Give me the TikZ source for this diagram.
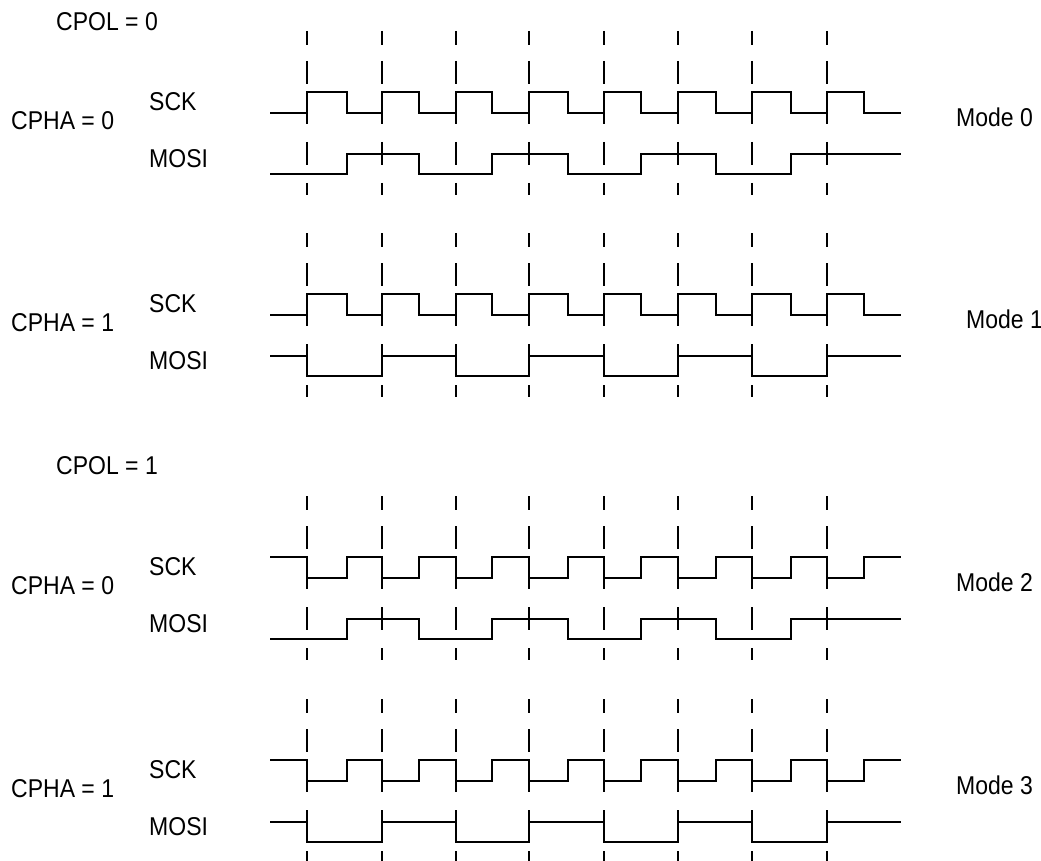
\documentclass[tikz,border=0pt]{standalone}
\usepackage{fontspec}
\setmainfont{Liberation Sans}
\usepackage{graphicx}
\newcommand\stlbl[1]{\scalebox{1}[1.12]{#1}}
\begin{document}
\begin{tikzpicture}[x=1pt,y=-1pt,
  sig/.style={line width=1.8pt, line join=miter},
  tick/.style={line width=1.6pt},
  lbl/.style={anchor=west, inner sep=0pt, font=\fontsize{23}{26}\selectfont}]
\useasboundingbox (0,0) rectangle (1041,861);
\fill[white] (0,0) rectangle (1041,861);
\node[lbl] (cpol0) at (56,22) {\stlbl{CPOL = 0}};
\node[lbl] (cpol1) at (56,466) {\stlbl{CPOL = 1}};
\foreach \D/\pol/\pha/\m/\mx in {61/0/0/0/956, 263/0/1/1/966, 526/1/0/2/956, 729/1/1/3/956}{
  \pgfmathsetmacro\SH{\D+31}
  \pgfmathsetmacro\SL{\D+52}
  \pgfmathsetmacro\MH{\D+93}
  \pgfmathsetmacro\ML{\D+113}
  \ifnum\pol=0
    \let\Si\SL \let\Sa\SH
  \else
    \let\Si\SH \let\Sa\SL
  \fi
  % SCK
  \draw[sig] (270,\Si)
    \foreach \e/\f in {307/347, 382/419, 456/492, 529/568, 604/641, 678/716, 752/791, 827/864}
      { -- (\e,\Si) -- (\e,\Sa) -- (\f,\Sa) -- (\f,\Si) } -- (901,\Si);
  % MOSI
  \ifnum\pha=0
    \draw[sig] (270,\ML)
      \foreach \a/\b in {347/419, 492/568, 641/716}
        { -- (\a,\ML) -- (\a,\MH) -- (\b,\MH) -- (\b,\ML) }
      -- (791,\ML) -- (791,\MH) -- (901,\MH);
  \else
    \draw[sig] (270,\MH)
      \foreach \a/\b in {307/382, 456/529, 604/678, 752/827}
        { -- (\a,\MH) -- (\a,\ML) -- (\b,\ML) -- (\b,\MH) }
      -- (901,\MH);
  \fi
  % dashed sampling lines
  \foreach \x in {307,382,456,529,604,678,752,827}{
    \foreach \a/\b in {-30/-16, 0/23, 40/63, 81/104, 122/134}{
      \pgfmathsetmacro\ya{\D+\a}
      \pgfmathsetmacro\yb{\D+\b}
      \draw[tick] (\x,\ya) -- (\x,\yb);
    }
  }
  % labels
  \pgfmathsetmacro\ySCK{\D+41}
  \pgfmathsetmacro\yMOSI{\D+98}
  \pgfmathsetmacro\yCPHA{\D+60}
  \pgfmathsetmacro\yMode{\D+56}
  \node[lbl] (sck\m) at (149,\ySCK) {\stlbl{SCK}};
  \node[lbl] (mosi\m) at (149,\yMOSI) {\stlbl{MOSI}};
  \node[lbl] (cpha\m) at (11,\yCPHA) {\stlbl{CPHA = \pha}};
  \node[lbl] (mode\m) at (\mx,\yMode) {\stlbl{Mode \m}};
}
\end{tikzpicture}
\end{document}
